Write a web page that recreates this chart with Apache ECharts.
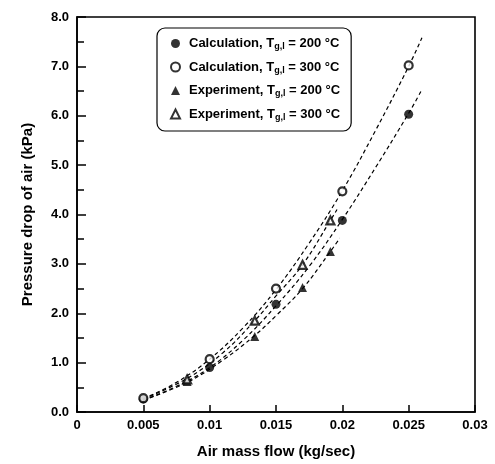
<!DOCTYPE html>
<html>
<head>
<meta charset="utf-8">
<script src="https://cdn.jsdelivr.net/npm/echarts@6/dist/echarts.min.js"></script>
<style>html,body{margin:0;padding:0;background:#fff}#c{width:495px;height:464px}</style>
</head>
<body>
<div id="c"></div>
<script>
// Measured points
const calc200 = [[0.005,0.26],[0.01,0.90],[0.015,2.18],[0.02,3.88],[0.025,6.03]];
const calc300 = [[0.005,0.28],[0.01,1.07],[0.015,2.50],[0.02,4.47],[0.025,7.02]];
const exp200  = [[0.0083,0.62],[0.0134,1.53],[0.017,2.52],[0.0191,3.25]];
const exp300  = [[0.0083,0.66],[0.0134,1.85],[0.017,2.98],[0.0191,3.88]];
// Dashed fit curves
const calc200Fit = [[0.005,0.24],[0.0075,0.52],[0.01,0.9],[0.0125,1.45],[0.015,2.15],[0.0175,2.95],[0.02,3.9],[0.0225,4.95],[0.025,6.05],[0.026,6.53]];
const calc300Fit = [[0.005,0.27],[0.0075,0.6],[0.01,1.07],[0.0125,1.7],[0.015,2.48],[0.0175,3.42],[0.02,4.48],[0.0225,5.7],[0.025,7.0],[0.026,7.58]];
const exp200Fit  = [[0.005,0.24],[0.0083,0.6],[0.011,1.05],[0.0134,1.55],[0.015,1.95],[0.017,2.5],[0.0191,3.25],[0.0198,3.52]];
const exp300Fit  = [[0.005,0.26],[0.0083,0.68],[0.011,1.2],[0.0134,1.85],[0.015,2.35],[0.017,2.98],[0.0191,3.88],[0.0196,4.1]];
const legendNames = ['Calculation, T{s|g,l} = 200 \u00b0C','Calculation, T{s|g,l} = 300 \u00b0C','Experiment, T{s|g,l} = 200 \u00b0C','Experiment, T{s|g,l} = 300 \u00b0C'];
const xTicks = {min:0, max:0.03, step:0.005};
const yTicks = {min:0, max:8, step:1};

const chart = echarts.init(document.getElementById('c'), null, {renderer:'canvas'});
const FONT = 'Liberation Sans, Arial, sans-serif';
function fitLine(data){
  return {type:'line', data:data, smooth:0.4, symbol:'none', silent:true,
    lineStyle:{color:'#000', width:1.2, type:[4,3]}, z:1};
}
function pts(name, data, sym, filled){
  return {type:'scatter', name:name, data:data, symbol:sym, symbolSize: filled?9:8,
    itemStyle:{color: filled?'#000':'#fff', borderColor:'#000', borderWidth: filled?0:2.2}, z:3};
}
chart.setOption({
  animation:false,
  backgroundColor:'#fff',
  grid:{left:77, right:20, top:17, bottom:50, show:true, borderColor:'#000', borderWidth:1.6},
  legend:{
    left:157, top:28, orient:'vertical',
    itemWidth:9, itemHeight:9, itemGap:9,
    borderColor:'#000', borderWidth:1.2, borderRadius:8, padding:[9,11,9,13],
    data: legendNames.map((n,i)=>({name:n, icon: i<2?'circle':'triangle',
      itemStyle:{color: i%2===0?'#000':'#fff', borderColor:'#000', borderWidth: i%2===0?0:2}})),
    textStyle:{fontFamily:FONT, fontWeight:'bold', fontSize:13, color:'#000', padding:[0,0,0,4],
      rich:{s:{fontFamily:FONT, fontWeight:'bold', fontSize:9, color:'#000', verticalAlign:'bottom', padding:[7,0,0,0]}}},
    formatter: n=>n
  },
  xAxis:{type:'value', min:xTicks.min, max:xTicks.max, interval:xTicks.step,
    name:'Air mass flow (kg/sec)', nameLocation:'middle', nameGap:32,
    nameTextStyle:{fontFamily:FONT, fontWeight:'bold', fontSize:15, color:'#000'},
    axisLine:{lineStyle:{color:'#000', width:1.6}},
    axisTick:{inside:true, length:7, lineStyle:{color:'#000', width:1.5}},
    minorTick:{show:false},
    splitLine:{show:false},
    axisLabel:{fontFamily:FONT, fontWeight:'bold', fontSize:13, color:'#000', margin:7,
      formatter: v=>String(+v.toFixed(4))}
  },
  yAxis:{type:'value', min:yTicks.min, max:yTicks.max, interval:yTicks.step,
    name:'Pressure drop of air (kPa)', nameLocation:'middle', nameGap:42,
    nameTextStyle:{fontFamily:FONT, fontWeight:'bold', fontSize:15, color:'#000'},
    axisLine:{lineStyle:{color:'#000', width:1.6}},
    axisTick:{inside:true, length:9, lineStyle:{color:'#000', width:1.5}},
    minorTick:{show:true, splitNumber:2, length:7, lineStyle:{color:'#000', width:1.5}},
    splitLine:{show:false},
    axisLabel:{fontFamily:FONT, fontWeight:'bold', fontSize:13, color:'#000', margin:8,
      formatter: v=>v.toFixed(1)}
  },
  series:[
    fitLine(calc200Fit), fitLine(calc300Fit), fitLine(exp200Fit), fitLine(exp300Fit),
    pts(legendNames[0], calc200, 'circle', true),
    pts(legendNames[1], calc300, 'circle', false),
    pts(legendNames[2], exp200, 'triangle', true),
    pts(legendNames[3], exp300, 'triangle', false)
  ]
});
</script>
</body>
</html>
